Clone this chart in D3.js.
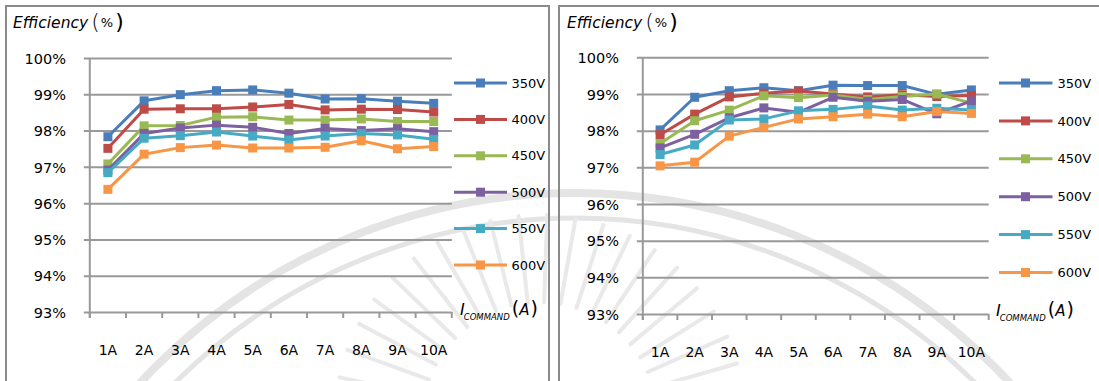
<!DOCTYPE html>
<html>
<head>
<meta charset="utf-8">
<script src="https://cdn.jsdelivr.net/npm/d3@7/dist/d3.min.js"></script>
<style>
  html, body { margin: 0; padding: 0; background: #ffffff; }
  svg { display: block; }
  text { font-family: "DejaVu Sans", Verdana, sans-serif; fill: #000; }
</style>
</head>
<body>
<svg id="chart" width="1099" height="381"></svg>
<script>
// Categories, series and tick values
const categories = ["1A", "2A", "3A", "4A", "5A", "6A", "7A", "8A", "9A", "10A"];
const seriesNames = ["350V", "400V", "450V", "500V", "550V", "600V"];
const seriesColors = ["#4A7EBB", "#BE4B48", "#98B954", "#7D60A0", "#46AAC5", "#F79646"];
const yTicks = [93, 94, 95, 96, 97, 98, 99, 100];

// Left chart: efficiency (%) per command current
const left350 = [97.83, 98.82, 98.99, 99.10, 99.12, 99.03, 98.87, 98.88, 98.81, 98.75];
const left400 = [97.51, 98.59, 98.60, 98.60, 98.65, 98.72, 98.57, 98.59, 98.58, 98.51];
const left450 = [97.08, 98.13, 98.14, 98.37, 98.38, 98.29, 98.29, 98.32, 98.25, 98.25];
const left500 = [96.91, 97.92, 98.07, 98.15, 98.09, 97.92, 98.06, 98.00, 98.05, 97.97];
const left550 = [96.84, 97.79, 97.86, 97.96, 97.85, 97.74, 97.85, 97.92, 97.88, 97.76];
const left600 = [96.38, 97.35, 97.53, 97.60, 97.52, 97.52, 97.54, 97.72, 97.50, 97.56];

// Right chart: efficiency (%) per command current
const right350 = [98.02, 98.91, 99.09, 99.17, 99.09, 99.24, 99.23, 99.23, 98.99, 99.11];
const right400 = [97.89, 98.45, 98.92, 99.02, 99.08, 99.00, 98.92, 98.98, 98.93, 98.96];
const right450 = [97.65, 98.27, 98.56, 98.95, 98.90, 98.97, 98.85, 98.93, 99.00, 98.75];
const right500 = [97.53, 97.90, 98.35, 98.62, 98.50, 98.91, 98.80, 98.85, 98.46, 98.81];
const right550 = [97.35, 97.61, 98.29, 98.32, 98.54, 98.58, 98.67, 98.56, 98.61, 98.56];
const right600 = [97.04, 97.14, 97.85, 98.09, 98.32, 98.38, 98.45, 98.38, 98.52, 98.47];

const leftSeries = [left350, left400, left450, left500, left550, left600];
const rightSeries = [right350, right400, right450, right500, right550, right600];

const svg = d3.select("#chart");

// Faint seal in the page background
const seal = svg.append("g").attr("fill", "none").attr("stroke", "#e4e4e4");
const ringArc = (r) => d3.arc()({ innerRadius: r, outerRadius: r, startAngle: -Math.PI / 2, endAngle: Math.PI / 2 });
seal.append("path").attr("transform", "translate(575,786)").attr("d", ringArc(593)).attr("stroke-width", 8);
seal.append("path").attr("transform", "translate(575,786)").attr("d", ringArc(568)).attr("stroke-width", 5);
const rays = d3.range(-168, -8, 8);
seal.selectAll("line.ray").data(rays).join("line")
  .attr("class", "ray")
  .attr("x1", a => 540 + 118 * Math.cos(a * Math.PI / 180))
  .attr("y1", a => 420 + 118 * Math.sin(a * Math.PI / 180))
  .attr("x2", a => 540 + 205 * Math.cos(a * Math.PI / 180))
  .attr("y2", a => 420 + 205 * Math.sin(a * Math.PI / 180))
  .attr("stroke", "#e9e9e9")
  .attr("stroke-width", 4)
  .attr("stroke-linecap", "round");

// Panel frames
const frame = svg.append("g").attr("fill", "none").attr("stroke", "#8a8a8a").attr("stroke-width", 2);
frame.append("path").attr("d", "M6,381 V6 H549 V381");
frame.append("path").attr("d", "M559,381 V6 H1099");

function drawPanel(cfg, data) {
  const g = svg.append("g");

  const x = d3.scaleBand().domain(categories).range([cfg.axisX, cfg.plotRight]);
  const y = d3.scaleLinear().domain([93, 100]).range([cfg.yBottom, cfg.yTop]);

  // Horizontal gridlines with left tick stubs, plus y labels
  const yAxis = d3.axisLeft(y).tickValues(yTicks)
    .tickSize(-(cfg.plotRight - cfg.axisX))
    .tickFormat(d => d + "%");
  const ya = g.append("g").attr("transform", `translate(${cfg.axisX},0)`).call(yAxis);
  ya.select(".domain").remove();
  ya.selectAll(".tick line")
    .attr("x1", -6)
    .attr("stroke", "#999999").attr("stroke-width", 2);
  ya.selectAll(".tick text")
    .attr("x", cfg.labelRight - cfg.axisX)
    .attr("dy", "0.36em")
    .style("font-size", "14.5px")
    .style("font-family", "'DejaVu Sans', Verdana, sans-serif")
    .attr("fill", "#000");

  // Vertical axis line
  g.append("line")
    .attr("x1", cfg.axisX).attr("x2", cfg.axisX)
    .attr("y1", y(100)).attr("y2", y(93) + 6)
    .attr("stroke", "#999999").attr("stroke-width", 2);

  // Category ticks on the category boundaries
  const bounds = categories.map(c => x(c)).concat([cfg.plotRight]);
  g.selectAll("line.xtick").data(bounds).join("line")
    .attr("class", "xtick")
    .attr("x1", d => d).attr("x2", d => d)
    .attr("y1", y(93)).attr("y2", y(93) + 6)
    .attr("stroke", "#999999").attr("stroke-width", 2);

  // Category labels
  const xAxis = d3.axisBottom(x).tickSize(0).tickPadding(0);
  const xa = g.append("g").attr("transform", `translate(0,${cfg.xLabelY})`).call(xAxis);
  xa.select(".domain").remove();
  xa.selectAll(".tick text")
    .attr("y", 0).attr("dy", "0")
    .style("font-size", "14px")
    .style("font-family", "'DejaVu Sans', Verdana, sans-serif")
    .attr("fill", "#000");

  // Series lines and square markers
  const line = d3.line()
    .x((d, i) => x(categories[i]) + x.bandwidth() / 2)
    .y(d => y(d));
  const ms = 9;
  data.forEach((vals, si) => {
    const col = seriesColors[si];
    g.append("path").datum(vals)
      .attr("d", line)
      .attr("fill", "none")
      .attr("stroke", col)
      .attr("stroke-width", 3)
      .attr("stroke-linejoin", "round");
    g.selectAll(null).data(vals).join("rect")
      .attr("x", (d, i) => x(categories[i]) + x.bandwidth() / 2 - ms / 2)
      .attr("y", d => y(d) - ms / 2)
      .attr("width", ms).attr("height", ms)
      .attr("fill", col);
  });

  // Legend
  const lg = g.append("g");
  seriesNames.forEach((name, si) => {
    const ly = cfg.legendY0 + si * cfg.legendStep;
    const col = seriesColors[si];
    lg.append("line")
      .attr("x1", cfg.legendX1).attr("x2", cfg.legendX2)
      .attr("y1", ly).attr("y2", ly)
      .attr("stroke", col).attr("stroke-width", 3);
    lg.append("rect")
      .attr("x", cfg.legendMarkX - ms / 2).attr("y", ly - ms / 2)
      .attr("width", ms).attr("height", ms)
      .attr("fill", col);
    lg.append("text")
      .attr("x", cfg.legendTextX).attr("y", ly)
      .attr("dy", "0.36em")
      .style("font-size", "13px")
      .text(name);
  });

  // Axis titles
  const t = g.append("text").attr("x", cfg.titleX).attr("y", 28);
  t.append("tspan").style("font-size", "15.5px").style("font-style", "italic").text("Efficiency");
  t.append("tspan").attr("dx", 3).attr("dy", 1).style("font-size", "22px").style("font-weight", "200").text("(");
  t.append("tspan").attr("dx", 1).attr("dy", -2).style("font-size", "13px").text("%");
  t.append("tspan").attr("dx", 2).attr("dy", 2).style("font-size", "22px").text(")");

  const c = g.append("text").attr("x", cfg.cmdX).attr("y", cfg.cmdY);
  c.append("tspan").style("font-size", "16px").style("font-style", "italic").text("I");
  c.append("tspan").attr("dx", -1).attr("dy", 5).style("font-size", "8.5px").style("font-style", "italic").text("COMMAND");
  c.append("tspan").attr("dx", 2).attr("dy", -5).style("font-size", "19px").text("(");
  c.append("tspan").attr("dx", 0).style("font-size", "15px").style("font-style", "italic").text("A");
  c.append("tspan").attr("dx", 1).style("font-size", "19px").text(")");
}

drawPanel({
  axisX: 89.8, plotRight: 451.8, yTop: 58, yBottom: 312, labelRight: 66,
  xLabelY: 355,
  legendX1: 454, legendX2: 507, legendMarkX: 480.5, legendTextX: 511.5,
  legendY0: 83, legendStep: 36.4,
  titleX: 13, cmdX: 460, cmdY: 315
}, leftSeries);

drawPanel({
  axisX: 642.8, plotRight: 988.7, yTop: 57.3, yBottom: 314, labelRight: 619,
  xLabelY: 357,
  legendX1: 999, legendX2: 1052.5, legendMarkX: 1025.5, legendTextX: 1057.5,
  legendY0: 83, legendStep: 37.9,
  titleX: 567, cmdX: 996, cmdY: 316
}, rightSeries);
</script>
</body>
</html>
